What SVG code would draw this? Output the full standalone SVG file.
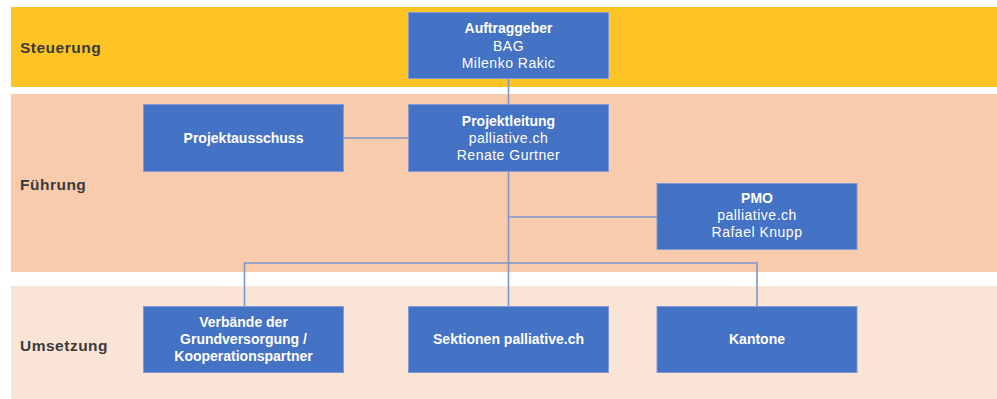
<svg xmlns="http://www.w3.org/2000/svg" width="997" height="399" viewBox="0 0 997 399">
<style>
.band-label{font-family:"Liberation Sans",Arial,sans-serif;font-weight:bold;font-size:15.5px;letter-spacing:0.5px;fill:#3a3a3a}
.box{fill:#4472C4;stroke:#7f9ad6;stroke-width:1}
.t{font-family:"Liberation Sans",Arial,sans-serif;font-size:14px;letter-spacing:0.5px;fill:#ffffff;text-anchor:middle}
.b{font-weight:bold;letter-spacing:0}
.conn{fill:none;stroke:#7f95c9;stroke-width:1.6}
</style>
<rect x="0" y="0" width="997" height="399" fill="#ffffff"/>
<g id="bands">
<rect x="11" y="7" width="986" height="80" fill="#FEC325"/>
<rect x="11" y="94" width="986" height="178" fill="#F7CBAC"/>
<rect x="11" y="286" width="986" height="113" fill="#FAE4D6"/>
<text class="band-label" x="20" y="53">Steuerung</text>
<text class="band-label" x="20" y="190">Führung</text>
<text class="band-label" x="20" y="351">Umsetzung</text>
</g>
<g id="connectors">
<line class="conn" x1="508.5" y1="79" x2="508.5" y2="306"/>
<line class="conn" x1="344" y1="138" x2="408" y2="138"/>
<line class="conn" x1="508.5" y1="217" x2="657" y2="217"/>
<polyline class="conn" points="244.5,306 244.5,263 757,263 757,306"/>
</g>
<g id="auftraggeber">
<rect class="box" x="408.5" y="12.5" width="200" height="66"/>
<text class="t b" x="508.5" y="33">Auftraggeber</text>
<text class="t" x="508.5" y="51">BAG</text>
<text class="t" x="508.5" y="68">Milenko Rakic</text>
</g>
<g id="projektausschuss">
<rect class="box" x="143.5" y="104.5" width="200" height="67"/>
<text class="t b" x="243.5" y="143">Projektausschuss</text>
</g>
<g id="projektleitung">
<rect class="box" x="408.5" y="104.5" width="200" height="67"/>
<text class="t b" x="508.5" y="126">Projektleitung</text>
<text class="t" x="508.5" y="143">palliative.ch</text>
<text class="t" x="508.5" y="160">Renate Gurtner</text>
</g>
<g id="pmo">
<rect class="box" x="657" y="183.5" width="200" height="66"/>
<text class="t b" x="757" y="203">PMO</text>
<text class="t" x="757" y="220">palliative.ch</text>
<text class="t" x="757" y="237">Rafael Knupp</text>
</g>
<g id="verbaende">
<rect class="box" x="143.5" y="306.5" width="200" height="66"/>
<text class="t b" x="243.5" y="327">Verbände der</text>
<text class="t b" x="243.5" y="344">Grundversorgung /</text>
<text class="t b" x="243.5" y="361">Kooperationspartner</text>
</g>
<g id="sektionen">
<rect class="box" x="408.5" y="306.5" width="200" height="66"/>
<text class="t b" x="508.5" y="344">Sektionen palliative.ch</text>
</g>
<g id="kantone">
<rect class="box" x="657" y="306.5" width="200" height="66"/>
<text class="t b" x="757" y="344">Kantone</text>
</g>
</svg>
